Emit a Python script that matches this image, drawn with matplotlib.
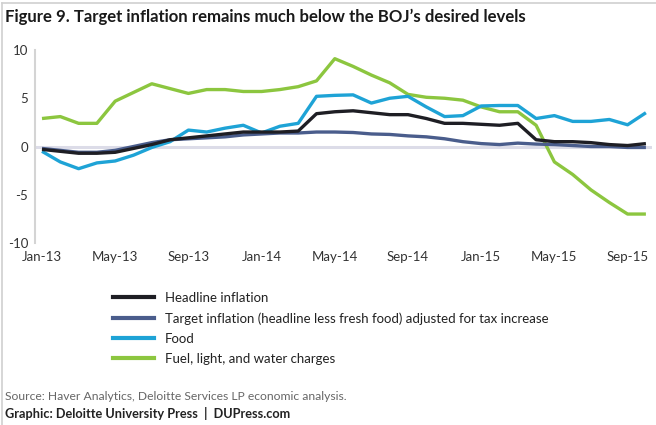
import matplotlib
matplotlib.use("Agg")
import matplotlib.pyplot as plt
from matplotlib.lines import Line2D
from matplotlib import font_manager

# Monthly year-over-year change (%), Jan-2013 .. Oct-2015
months = ["Jan-13", "Feb-13", "Mar-13", "Apr-13", "May-13", "Jun-13", "Jul-13", "Aug-13",
          "Sep-13", "Oct-13", "Nov-13", "Dec-13", "Jan-14", "Feb-14", "Mar-14", "Apr-14",
          "May-14", "Jun-14", "Jul-14", "Aug-14", "Sep-14", "Oct-14", "Nov-14", "Dec-14",
          "Jan-15", "Feb-15", "Mar-15", "Apr-15", "May-15", "Jun-15", "Jul-15", "Aug-15",
          "Sep-15", "Oct-15"]

headline = [-0.3, -0.5, -0.7, -0.7, -0.6, -0.2, 0.2, 0.7,
            0.9, 1.1, 1.3, 1.5, 1.5, 1.5, 1.6, 3.4,
            3.6, 3.7, 3.5, 3.3, 3.3, 2.9, 2.4, 2.4,
            2.3, 2.2, 2.4, 0.7, 0.5, 0.5, 0.4, 0.2,
            0.1, 0.3]

target = [-0.2, -0.4, -0.6, -0.6, -0.4, 0.0, 0.4, 0.7,
          0.8, 0.9, 1.0, 1.2, 1.3, 1.4, 1.4, 1.5,
          1.5, 1.45, 1.3, 1.25, 1.1, 1.0, 0.8, 0.5,
          0.3, 0.2, 0.35, 0.25, 0.2, 0.1, 0.0, 0.0,
          -0.1, -0.1]

food = [-0.5, -1.6, -2.3, -1.7, -1.5, -0.9, -0.1, 0.5,
        1.7, 1.5, 1.9, 2.2, 1.4, 2.1, 2.4, 5.2,
        5.3, 5.35, 4.5, 5.0, 5.2, 4.1, 3.1, 3.2,
        4.2, 4.25, 4.25, 2.9, 3.2, 2.6, 2.6, 2.8,
        2.25, 3.5]

fuel = [2.9, 3.1, 2.4, 2.4, 4.7, 5.6, 6.5, 6.0,
        5.5, 5.9, 5.9, 5.7, 5.7, 5.9, 6.2, 6.8,
        9.1, 8.3, 7.4, 6.6, 5.4, 5.1, 5.0, 4.8,
        4.1, 3.6, 3.6, 2.2, -1.6, -2.9, -4.5, -5.8,
        -7.0, -7.0]

series_labels = ["Headline inflation",
                 "Target inflation (headline less fresh food) adjusted for tax increase",
                 "Food",
                 "Fuel, light, and water charges"]
series_colors = ["#1e1e24", "#4a5d8c", "#1ea3d6", "#8cc63f"]

tick_labels = ["Jan-13", "May-13", "Sep-13", "Jan-14", "May-14", "Sep-14",
               "Jan-15", "May-15", "Sep-15"]
y_ticks = [-10, -5, 0, 5, 10]

title = "Figure 9. Target inflation remains much below the BOJ\u2019s desired levels"
source = "Source: Haver Analytics, Deloitte Services LP economic analysis."
credit = "Graphic: Deloitte University Press  |  DUPress.com"

available = {f.name for f in font_manager.fontManager.ttflist}
family = "Liberation Sans Narrow" if "Liberation Sans Narrow" in available else "Lato"
plt.rcParams["font.family"] = [family, "DejaVu Sans"]

W, H = 656, 425
fig = plt.figure(figsize=(W / 100, H / 100), dpi=100)
fig.patch.set_facecolor("white")

ax = fig.add_axes([35 / W, 1 - 243 / H, (652 - 35) / W, (243 - 50) / H])
x = list(range(len(months)))

ax.axhline(0, color="#dcdce8", lw=2.2, zorder=1)

data = [headline, target, food, fuel]
for i in [3, 2, 1, 0]:
    ax.plot(x, data[i], color=series_colors[i], lw=2.4, solid_joinstyle="round",
            solid_capstyle="butt", zorder=3 + (3 - i))

ax.set_xlim(-(42 - 35) / 18.3, (652 - 42) / 18.3)
ax.set_ylim(-10, 10)
ax.set_yticks(y_ticks)
ax.set_yticklabels([str(v) for v in y_ticks])
ax.set_xticks([months.index(t) for t in tick_labels])
ax.set_xticklabels(tick_labels)
ax.tick_params(axis="both", length=0, labelsize=9.5, colors="#333333")
ax.tick_params(axis="y", pad=5)
ax.tick_params(axis="x", pad=6)
for s in ["top", "right", "bottom"]:
    ax.spines[s].set_visible(False)
ax.spines["left"].set_color("#d4d4d4")
ax.spines["left"].set_linewidth(1.5)

# Title and outer frame
fig.text(5 / W, 1 - 17 / H, title, fontsize=12.1, fontweight="bold", color="#1a1a1a",
         va="center", ha="left")
fig.add_artist(Line2D([2 / W, 2 / W], [0, 1 - 3 / H], color="#d0d0d0", lw=1.2))
fig.add_artist(Line2D([2 / W, 1], [1 - 3 / H, 1 - 3 / H], color="#d0d0d0", lw=1.2))

handles = [Line2D([], [], color=c, lw=3) for c in series_colors]
fig.legend(handles, series_labels, loc="upper left",
           bbox_to_anchor=(113 / W, 1 - 292 / H), frameon=False, fontsize=9.5,
           handlelength=3.1, handletextpad=0.85, labelspacing=0.62,
           borderaxespad=0, borderpad=0, labelcolor="#222222")

fig.text(5 / W, 1 - 396 / H, source, fontsize=8.7, color="#666666", va="center", ha="left")
fig.text(5 / W, 1 - 413 / H, credit, fontsize=9.2, fontweight="bold", color="#222222",
         va="center", ha="left")

fig.savefig("out.png", dpi=100, facecolor="white")
